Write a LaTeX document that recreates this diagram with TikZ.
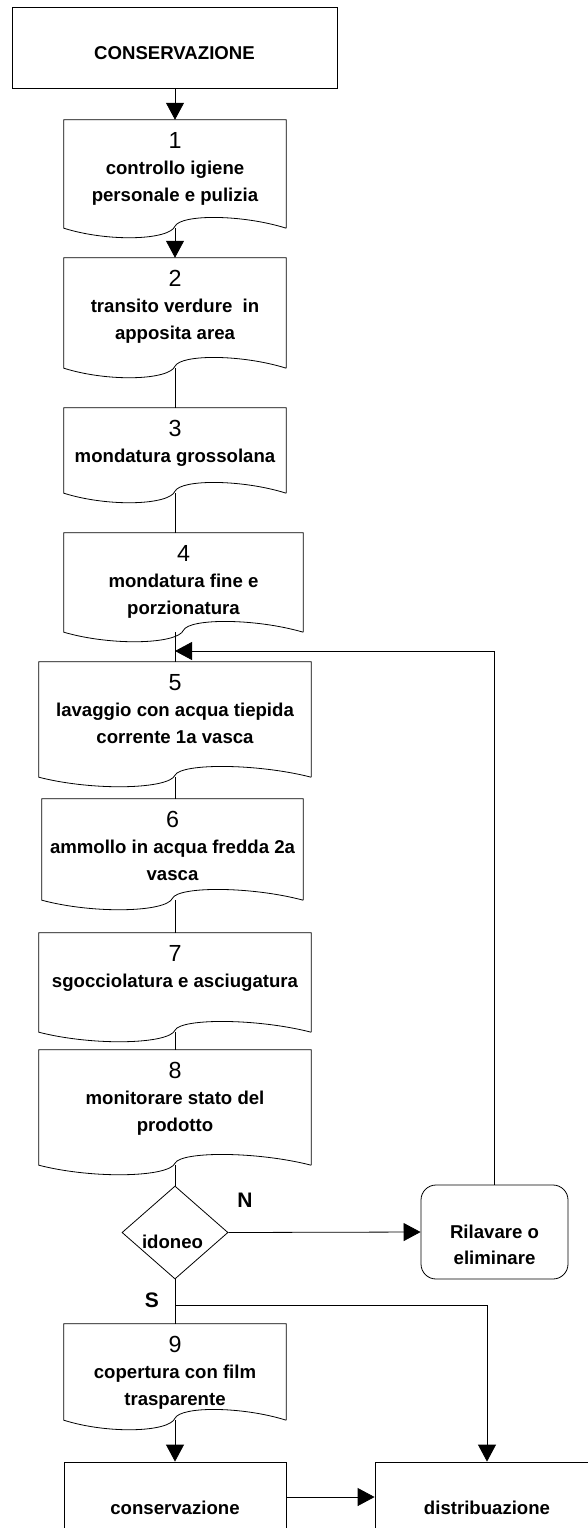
\documentclass[tikz,border=0pt]{standalone}
\usepackage{fontspec}
\setmainfont{Liberation Sans}
\usetikzlibrary{shapes.geometric,arrows.meta,calc}

\newcommand{\stepnum}[1]{{\mdseries\fontsize{23.3}{26.5}\selectfont #1}}
\newcommand{\docshape}[1]{%
  \draw[line] (#1.south east) -- (#1.north east) -- (#1.north west) -- (#1.south west)
    .. controls ($(#1.south west)!0.2!(#1.south east)+(0,14)$) and ($(#1.south)+(-6,12)$) .. ($(#1.south)+(0,-2)$)
    .. controls ($(#1.south)+(6,-14)$) and ($(#1.south east)!0.2!(#1.south west)+(0,-14)$) .. (#1.south east);}

\begin{document}
\begin{tikzpicture}[x=1pt, y=-1pt,
    line/.style={line width=0.8pt},
    flow/.style={line width=0.8pt, -{Triangle[length=17pt,width=18pt]}},
    procbox/.style={draw, line width=0.8pt, rectangle, inner sep=0pt, font=\bfseries\fontsize{18.6}{26.5}\selectfont},
    docbox/.style={rectangle, inner sep=0pt},
    steptext/.style={anchor=north, align=center, inner sep=0pt, yshift=-12pt, font=\bfseries\fontsize{18.6}{26.5}\selectfont},
    boxtext/.style={anchor=center, align=center, inner sep=0pt, font=\bfseries\fontsize{18.6}{26.5}\selectfont},
    decision/.style={diamond, draw, line width=0.8pt, inner sep=0pt},
    answer/.style={font=\bfseries\fontsize{21}{21}\selectfont}]
  \useasboundingbox (0,0) rectangle (588,1528);
  \clip (0,0) rectangle (588,1528);

  \node[procbox, minimum width=325, minimum height=81,
    label={[boxtext, yshift=-5.5pt]center:CONSERVAZIONE}] (start) at (174.5,47.5) {};

  \node[docbox, minimum width=222, minimum height=108,
    label={[steptext]north:{\stepnum{1}\\controllo igiene\\personale e pulizia}}] (s1) at (175,174) {};
  \node[docbox, minimum width=222, minimum height=110,
    label={[steptext]north:{\stepnum{2}\\transito verdure~ in\\apposita area}}] (s2) at (175,313) {};
  \node[docbox, minimum width=222, minimum height=85,
    label={[steptext]north:{\stepnum{3}\\mondatura grossolana}}] (s3) at (175,450.5) {};
  \node[docbox, minimum width=239, minimum height=99,
    label={[steptext]north:{\stepnum{4}\\mondatura fine e\\porzionatura}}] (s4) at (183.5,582.5) {};
  \node[docbox, minimum width=272, minimum height=115,
    label={[steptext]north:{\stepnum{5}\\lavaggio con acqua tiepida\\corrente 1a vasca}}] (s5) at (175,719.5) {};
  \node[docbox, minimum width=261, minimum height=101,
    label={[steptext]north:{\stepnum{6}\\ammollo in acqua fredda 2a\\vasca}}] (s6) at (172.5,849.5) {};
  \node[docbox, minimum width=272, minimum height=99,
    label={[steptext]north:{\stepnum{7}\\sgocciolatura e asciugatura}}] (s7) at (175,982.5) {};
  \node[docbox, minimum width=272, minimum height=115,
    label={[steptext]north:{\stepnum{8}\\monitorare stato del\\prodotto}}] (s8) at (175,1107.5) {};
  \node[docbox, minimum width=222, minimum height=96,
    label={[steptext]north:{\stepnum{9}\\copertura con film\\trasparente}}] (s9) at (175,1372) {};
  \foreach \s in {s1,s2,s3,s4,s5,s6,s7,s8,s9} {\docshape{\s}}

  \node[decision, minimum width=106, minimum height=93,
    label={[boxtext, yshift=-9.5pt, xshift=-2.5pt]center:idoneo}] (ok) at (175,1232.5) {};
  \node[procbox, rounded corners=15pt, minimum width=147, minimum height=94,
    label={[boxtext, yshift=-13pt]center:{Rilavare o\\eliminare}}] (redo) at (494.5,1232) {};
  \node[procbox, minimum width=222, minimum height=92] (keep) at (175,1508) {conservazione};
  \node[procbox, minimum width=224, minimum height=92] (dist) at (487,1508) {distribuazione};

  \node[answer] (no) at (245,1200) {N};
  \node[answer] (si) at (152,1300) {S};
  \coordinate (loop) at (175,651);
  \coordinate (yes) at (175,1305);

  \draw[flow] (s1.north |- start.south) -- (s1.north);
  \draw[flow] (s1.south) -- (s2.north);
  \draw[line] (s2.south) -- (s3.north);
  \draw[line] (s3.south) -- (s3.south |- s4.north);
  \draw[line] (s5.north |- s4.south) -- (s5.north);
  \draw[line] (s5.south) -- (s5.south |- s6.north);
  \draw[line] (s7.north |- s6.south) -- (s7.north);
  \draw[line] (s7.south) -- (s8.north);
  \draw[line] (s8.south) -- (ok.north);
  \draw[line] (ok.south) -- (s9.north);
  \draw[flow] (ok.east) -- (redo.west);
  \draw[flow] (redo.north) |- (loop);
  \draw[flow] (yes) -| (dist.north);
  \draw[flow] (s9.south) -- (keep.north);
  \draw[flow] ([yshift=11pt]keep.east) -- ([yshift=11pt]keep.east -| dist.west);
\end{tikzpicture}
\end{document}
